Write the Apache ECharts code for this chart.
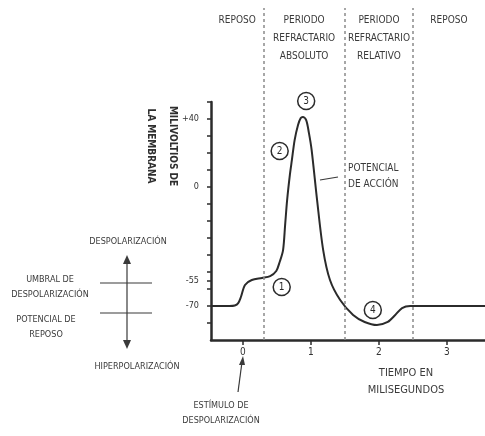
<!DOCTYPE html>
<html>
<head>
<meta charset="utf-8">
<script src="https://cdn.jsdelivr.net/npm/echarts@6/dist/echarts.min.js"></script>
<style>
  html, body { margin: 0; padding: 0; background: #fff; }
  #potencial { width: 485px; height: 436px; }
</style>
</head>
<body>
<div id="potencial"></div>
<script>
// datos
var timeMin = -0.47, timeMax = 3.56;
var voltMin = -90, voltMax = 50;
var apTime = [-0.47, -0.2, -0.12, -0.07, -0.03, 0.03, 0.13, 0.28, 0.40, 0.49, 0.54, 0.59, 0.62, 0.65, 0.69, 0.72, 0.76, 0.81, 0.85, 0.88, 0.93, 0.97, 1.01, 1.09, 1.18, 1.28, 1.43, 1.62, 1.79, 1.97, 2.13, 2.24, 2.34, 2.46, 2.7, 3.56];
var apVolt = [-70, -70, -69.7, -68.3, -64.7, -57.6, -54.7, -53.5, -52.4, -49.4, -44.1, -37.1, -22.4, -7.6, 7.1, 15.9, 27.6, 36.5, 40.6, 41.2, 39.4, 31.8, 21.8, -7.6, -37.1, -54.7, -66.5, -75.3, -79.4, -81.2, -79.4, -75.3, -71.2, -70, -70, -70];
var periodBounds = [-0.47, 0.3, 1.5, 2.5, 3.56];
var periodNames = ['REPOSO', 'PERIODO\nREFRACTARIO\nABSOLUTO', 'PERIODO\nREFRACTARIO\nRELATIVO', 'REPOSO'];
var voltLabels = [40, 0, -55, -70];
var voltTicks = [-80, -70, -60, -55, -50, -40, -30, -20, -10, 0, 10, 20, 30, 40, 50];
var timeTicks = [0, 1, 2, 3];
var markerTime = [0.57, 0.54, 0.93, 1.91];
var markerVolt = [-58.8, 21.2, 50.6, -72.4];
var markerNames = ['1', '2', '3', '4'];

var ink = '#2b2b2b';
var font = '"Liberation Sans Narrow", "DejaVu Sans Condensed", "Liberation Sans", sans-serif';

var chart = echarts.init(document.getElementById('potencial'));

var dividers = [];
for (var i = 1; i < periodBounds.length - 1; i++) {
    dividers.push({ xAxis: periodBounds[i] });
}
var areas = [];
for (var j = 0; j < periodNames.length; j++) {
    areas.push([{ xAxis: periodBounds[j], name: periodNames[j] }, { xAxis: periodBounds[j + 1] }]);
}

function txt(text, x, y, size, align) {
    return {
        type: 'text', x: x, y: y,
        style: {
            text: text, fill: '#3a3a3a', font: size + 'px ' + font,
            align: align || 'center', verticalAlign: 'middle', lineHeight: size + 6
        }
    };
}
function seg(x1, y1, x2, y2, w) {
    return { type: 'line', shape: { x1: x1, y1: y1, x2: x2, y2: y2 }, style: { stroke: '#3a3a3a', lineWidth: w || 1.2 } };
}
function head(pts) {
    return { type: 'polygon', shape: { points: pts }, style: { fill: '#3a3a3a' } };
}

var option = {
    animation: false,
    backgroundColor: '#fff',
    textStyle: { fontFamily: font },
    grid: [
        { left: 211, right: 0, top: 102, bottom: 96 },
        { left: 211, right: 0, top: 8, bottom: 96 }
    ],
    xAxis: [{
        gridIndex: 0, type: 'value', min: timeMin, max: timeMax,
        splitLine: { show: false },
        axisLine: { onZero: false, lineStyle: { color: ink, width: 2.5 } },
        axisTick: { customValues: timeTicks, length: 5, lineStyle: { color: ink, width: 1.5 } },
        axisLabel: { customValues: timeTicks, color: '#333', fontSize: 10, margin: 7 }
    }, {
        gridIndex: 1, type: 'value', min: timeMin, max: timeMax, show: false
    }],
    yAxis: [{
        gridIndex: 0, type: 'value', min: voltMin, max: voltMax,
        splitLine: { show: false },
        axisLine: { show: true, onZero: false, lineStyle: { color: ink, width: 2.5 } },
        axisTick: { customValues: voltTicks, length: 4, lineStyle: { color: ink, width: 1.5 } },
        axisLabel: {
            customValues: voltLabels, color: '#333', fontSize: 9, margin: 12,
            formatter: function (v) { return v > 0 ? '+' + v : String(v); }
        }
    }, {
        gridIndex: 1, type: 'value', min: 0, max: 1, show: false
    }],
    series: [{
        type: 'line',
        xAxisIndex: 0, yAxisIndex: 0,
        data: apTime.map(function (t, k) { return [t, apVolt[k]]; }),
        smooth: 0.3,
        symbol: 'none',
        lineStyle: { color: ink, width: 2 }
    }, {
        type: 'scatter',
        xAxisIndex: 0, yAxisIndex: 0,
        clip: false,
        data: markerTime.map(function (t, k) { return { value: [t, markerVolt[k]], name: markerNames[k] }; }),
        symbol: 'circle', symbolSize: 17,
        itemStyle: { color: '#fff', borderColor: ink, borderWidth: 1.5, opacity: 1 },
        label: { show: true, position: 'inside', formatter: '{b}', color: ink, fontSize: 10 },
        z: 5
    }, {
        type: 'scatter',
        xAxisIndex: 1, yAxisIndex: 1,
        data: [],
        markLine: {
            silent: true, symbol: 'none',
            label: { show: false },
            lineStyle: { color: '#8a8a8a', type: [3, 3], width: 1.5 },
            data: dividers
        },
        markArea: {
            silent: true,
            itemStyle: { color: 'rgba(0,0,0,0)' },
            label: { position: 'insideTop', distance: 3, color: '#3a3a3a', fontSize: 10, lineHeight: 18, align: 'center' },
            data: areas
        }
    }],
    graphic: [
        // titulo del eje vertical
        {
            type: 'text', x: 162, y: 146, rotation: -Math.PI / 2,
            style: { text: 'MILIVOLTIOS DE\nLA MEMBRANA', fill: '#2f2f2f', font: 'bold 10px ' + font, align: 'center', verticalAlign: 'middle', lineHeight: 22 }
        },
        txt('POTENCIAL\nDE ACCIÓN', 348, 176, 10, 'left'),
        seg(320, 180, 338, 177),
        txt('TIEMPO EN\nMILISEGUNDOS', 406, 382, 11),
        txt('ESTÍMULO DE\nDESPOLARIZACIÓN', 221, 413, 9),
        seg(238, 392, 242, 362),
        head([[243, 356], [239, 365], [245, 365]]),
        // esquema de la izquierda
        txt('DESPOLARIZACIÓN', 128, 242, 9),
        txt('UMBRAL DE\nDESPOLARIZACIÓN', 50, 287, 9),
        txt('POTENCIAL DE\nREPOSO', 46, 327, 9),
        txt('HIPERPOLARIZACIÓN', 137, 367, 9),
        seg(100, 283, 152, 283),
        seg(100, 313, 152, 313),
        seg(127, 262, 127, 342),
        head([[127, 255], [123, 264], [131, 264]]),
        head([[127, 349], [123, 340], [131, 340]])
    ]
};
chart.setOption(option);
window.onresize = chart.resize;
</script>
</body>
</html>
